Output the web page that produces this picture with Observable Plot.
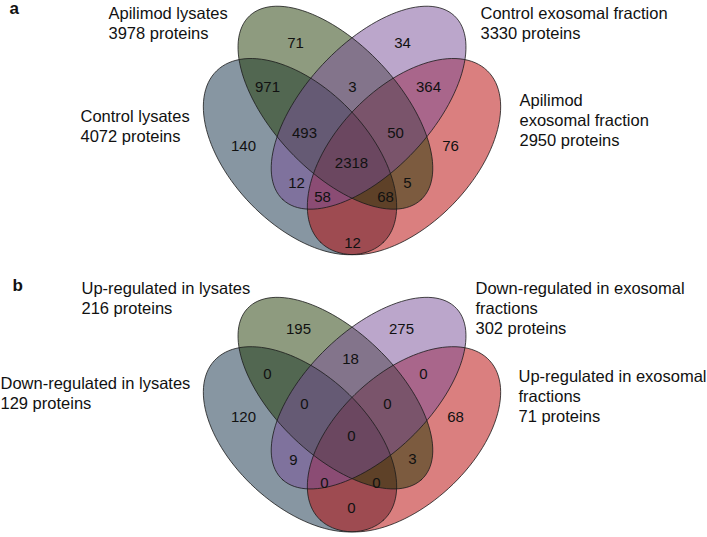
<!DOCTYPE html>
<html><head><meta charset="utf-8">
<script src="https://cdn.jsdelivr.net/npm/d3@7"></script>
<script src="https://cdn.jsdelivr.net/npm/@observablehq/plot@0.6"></script>
<style>body{margin:0;background:#fff}</style>
</head><body><div id="chart"></div>
<script>
// ---- data ----
// set order: A = Control / Down lysates (blue), B = Apilimod / Up lysates (green),
//            C = Control / Down exosomal (purple), D = Apilimod / Up exosomal (red)
const regionKeys = ["B","C","AB","BC","CD","A","ABC","BCD","D","ABCD","AC","BD","ACD","ABD","AD"];
const countsA = [71,34,971,3,364,140,493,50,76,2318,12,5,58,68,12];
const countsB = [195,275,0,18,0,120,0,0,68,0,9,3,0,0,0];
const setNamesA = ["Control lysates","Apilimod lysates","Control exosomal fraction","Apilimod\nexosomal fraction"];
const setSizesA = [4072,3978,3330,2950];
const setNamesB = ["Down-regulated in lysates","Up-regulated in lysates","Down-regulated in exosomal\nfractions","Up-regulated in exosomal\nfractions"];
const setSizesB = [129,216,302,71];
const panelLetters = ["a","b"];

// ---- layout (geometry of the ellipses and label placement) ----
const axisX = 351.5;
const blueGeom = [299.5,156.1,119.6,68.3,0.80];   // cx, cy, semi-major, semi-minor, angle
const greenGeom = [334.9,107.2,125.7,63.1,0.82];
const mirror = g => [2*axisX-g[0], g[1], g[2], g[3], Math.PI-g[4]];
const geoms = [blueGeom, greenGeom, mirror(greenGeom), mirror(blueGeom)]; // A, B, C, D
const colors = ["#0f2d45","#1d3700","#774d97","#b50000"];
const drawOrder = [0,3,1,2]; // blue, red, green, purple

function ell([cx,cy,a,b,phi], ty, sy){
  return d3.range(0,361,3).map(d=>{
    const t=d*Math.PI/180;
    const x=cx+a*Math.cos(t)*Math.cos(phi)-b*Math.sin(t)*Math.sin(phi);
    const y=cy+a*Math.cos(t)*Math.sin(phi)+b*Math.sin(t)*Math.cos(phi);
    return {x, y: ty+(y-8)*sy+8};
  });
}
const posA = [[295,43],[402,43],[267,87],[352,87],[428,87],[243,146],[304,133],[395,133],[450,146],[351,163],[296,183],[407,183],[322,197],[385,197],[352,243]];
const posB = [[298,329],[401,329],[267,374],[350,359],[423,374],[243,417],[304,404],[387,404],[455,417],[351,436],[293,460],[412,459],[324,483],[376,483],[351,508]];
const labA = [[80,119],[108,16],[480,16],[519,103]];   // left x, first baseline
const labB = [[0,386],[81,291],[475,291],[518,379]];
const fs = 16.5;

const marks = [];
const panels = [
  {ty:0,   sy:1,     counts:countsA, pos:posA, names:setNamesA, sizes:setSizesA, lab:labA},
  {ty:291, sy:0.944, counts:countsB, pos:posB, names:setNamesB, sizes:setSizesB, lab:labB}
];
for (const P of panels) {
  for (const i of drawOrder)
    marks.push(Plot.line(ell(geoms[i],P.ty,P.sy),{x:"x",y:"y",curve:"linear-closed",fill:colors[i],fillOpacity:0.5,stroke:"none"}));
  for (const i of drawOrder)
    marks.push(Plot.line(ell(geoms[i],P.ty,P.sy),{x:"x",y:"y",curve:"linear-closed",fill:"none",stroke:"#1a1a1a",strokeWidth:0.8}));
  const nums = P.counts.map((c,k)=>({x:P.pos[k][0], y:P.pos[k][1], t:String(c)}));
  marks.push(Plot.text(nums,{x:"x",y:"y",text:"t",fontSize:15,fill:"#111"}));
  const sl = P.names.map((n,k)=>({x:P.lab[k][0], y:P.lab[k][1]-0.71*fs, t:n+"\n"+P.sizes[k]+" proteins"}));
  marks.push(Plot.text(sl,{x:"x",y:"y",text:"t",textAnchor:"start",lineAnchor:"top",fontSize:fs,lineHeight:20/fs,fill:"#111"}));
}
marks.push(Plot.text(panelLetters.map((t,i)=>({x:[9,12][i], y:[8,285][i], t})),
  {x:"x",y:"y",text:"t",textAnchor:"start",lineAnchor:"middle",fontSize:17,fontWeight:"bold",fill:"#111"}));

const chart = Plot.plot({
  width:707, height:537, margin:0,
  x:{domain:[0,707], range:[0,707], axis:null},
  y:{domain:[0,537], range:[0,537], axis:null},
  style:{fontFamily:"'Liberation Sans', Arial, sans-serif", background:"#fff"},
  marks
});
document.getElementById("chart").appendChild(chart);
</script></body></html>
